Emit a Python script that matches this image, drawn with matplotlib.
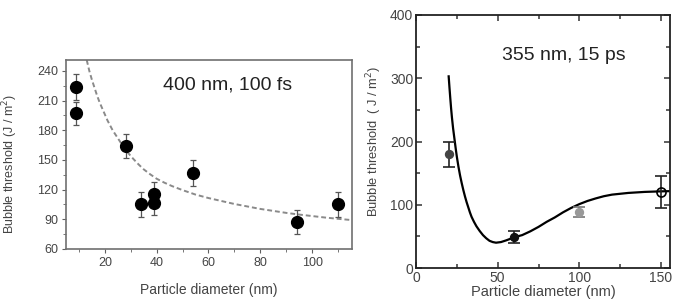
import matplotlib
matplotlib.use("Agg")
import matplotlib.pyplot as plt
import numpy as np

plt.rcParams['font.family'] = ['Liberation Sans', 'DejaVu Sans']

# Left panel (400 nm, 100 fs)
left_x = [9, 9, 28, 34, 39, 39, 54, 94, 110]
left_y = [224, 197, 164, 105, 116, 106, 137, 87, 105]
left_err = [13, 12, 12, 13, 12, 12, 13, 12, 13]
left_fit_x = [13, 14, 15, 16, 17, 18, 19.5, 21, 23, 25, 27, 29, 31, 33, 35, 37.5, 40, 43, 46,
              50, 55, 60, 65, 70, 75, 80, 85, 90, 95, 100, 105, 110, 115]
left_fit_y = [251, 240, 231, 223, 215, 208, 199, 190, 180, 172, 164, 157, 151, 145.5, 140.5,
              135.5, 131, 127, 123.5, 119.5, 115, 111.5, 108.5, 105.5, 103, 100.5, 98.5, 96.5,
              94.8, 93.3, 91.8, 90.5, 89.3]

# Right panel (355 nm, 15 ps)
right_x = [20, 60, 100, 150]
right_y = [180, 49, 89, 120]
right_err = [20, 10, 8, 25]
right_colors = ['#444444', '#111111', '#999999', 'none']
right_fit_x = [20, 20.5, 21, 21.5, 22, 22.7, 23.5, 24.3, 25, 26, 27, 28, 29, 30, 31, 32, 33, 34,
               35.5, 37, 39, 41, 43, 45, 47, 49, 52, 55, 57.6, 60, 65, 70, 75, 80, 85, 90, 95,
               100, 105, 110, 115, 120, 130, 140, 150, 155.5]
right_fit_y = [303, 285, 268, 252, 238, 221, 205, 189, 176, 160, 146, 134, 123, 113, 104, 96,
               88, 81, 73, 66, 58.5, 52, 47, 43, 41, 40, 41, 43.5, 46, 48.5, 52, 58, 65, 73,
               80, 88, 95, 101, 106, 110, 113.5, 116, 118.7, 120.3, 121.2, 121.5]

fig = plt.figure(figsize=(6.78, 3.0), dpi=100)

# ---------------- left ----------------
ax1 = fig.add_axes([66/678, 1-249/300, 286/678, 189/300])
ax1.plot(left_fit_x, left_fit_y, ls=(0, (2.5, 1.5)), color='#8a8a8a', lw=1.4, zorder=2)
ax1.errorbar(left_x, left_y, yerr=left_err, fmt='o', color='black', ms=8.5,
             ecolor='#555555', elinewidth=0.9, capsize=2, capthick=0.9, zorder=3)
ax1.set_xlim(5, 115.4)
ax1.set_ylim(60, 251)
ax1.set_xticks([20, 40, 60, 80, 100])
ax1.set_xticks(np.arange(10, 115, 10), minor=True)
ax1.set_yticks([60, 90, 120, 150, 180, 210, 240])
ax1.set_yticks(np.arange(75, 250, 30), minor=True)
for s in ax1.spines.values():
    s.set_color('#707070')
    s.set_linewidth(1.2)
ax1.tick_params(which='both', direction='out', colors='#606060', labelcolor='#444444', labelsize=9)
ax1.tick_params(which='major', length=3, pad=2.5)
ax1.tick_params(which='minor', length=2)
ax1.set_xlabel('Particle diameter (nm)', fontsize=10, color='#444444', labelpad=10)
ax1.set_ylabel('Bubble threshold (J / m$^2$)', fontsize=9, color='#444444')
ax1.yaxis.set_label_coords(-0.16, 0.45)
ax1.text(0.565, 0.87, '400 nm, 100 fs', transform=ax1.transAxes, ha='center', va='center',
         fontsize=14, color='#222222')

# ---------------- right ----------------
ax2 = fig.add_axes([416/678, 1-268/300, 254/678, 253/300])
ax2.plot(right_fit_x, right_fit_y, color='black', lw=1.6, zorder=2, solid_joinstyle='round')
for x, y, e, c in zip(right_x, right_y, right_err, right_colors):
    ec = 'black' if c == 'none' else c
    ax2.errorbar([x], [y], yerr=[e], fmt='o', mfc=c, mec=ec,
                 ms=6.5 if c == 'none' else 5.5, mew=1.2,
                 ecolor='#777777' if c == '#999999' else '#222222',
                 elinewidth=1.2, capsize=4, capthick=1.2, zorder=3)
ax2.set_xlim(0, 155.5)
ax2.set_ylim(0, 400)
ax2.set_xticks([0, 50, 100, 150])
ax2.set_xticks([25, 75, 125], minor=True)
ax2.set_yticks([0, 100, 200, 300, 400])
ax2.set_yticks([50, 150, 250, 350], minor=True)
for s in ax2.spines.values():
    s.set_color('#222222')
    s.set_linewidth(1.3)
ax2.tick_params(which='both', direction='in', top=True, right=True, colors='#333333',
                labelcolor='#444444', labelsize=10)
ax2.tick_params(which='major', length=4, width=1.1, pad=2)
ax2.tick_params(which='minor', length=3, width=1.1)
ax2.set_xlabel('Particle diameter (nm)', fontsize=10.5, color='#444444', labelpad=0)
ax2.set_ylabel('Bubble threshold  ( J / m$^2$)', fontsize=9.3, color='#444444', labelpad=4)
ax2.text(0.58, 0.84, '355 nm, 15 ps', transform=ax2.transAxes, ha='center', va='center',
         fontsize=14, color='#222222')

fig.savefig('out.png', dpi=100)
